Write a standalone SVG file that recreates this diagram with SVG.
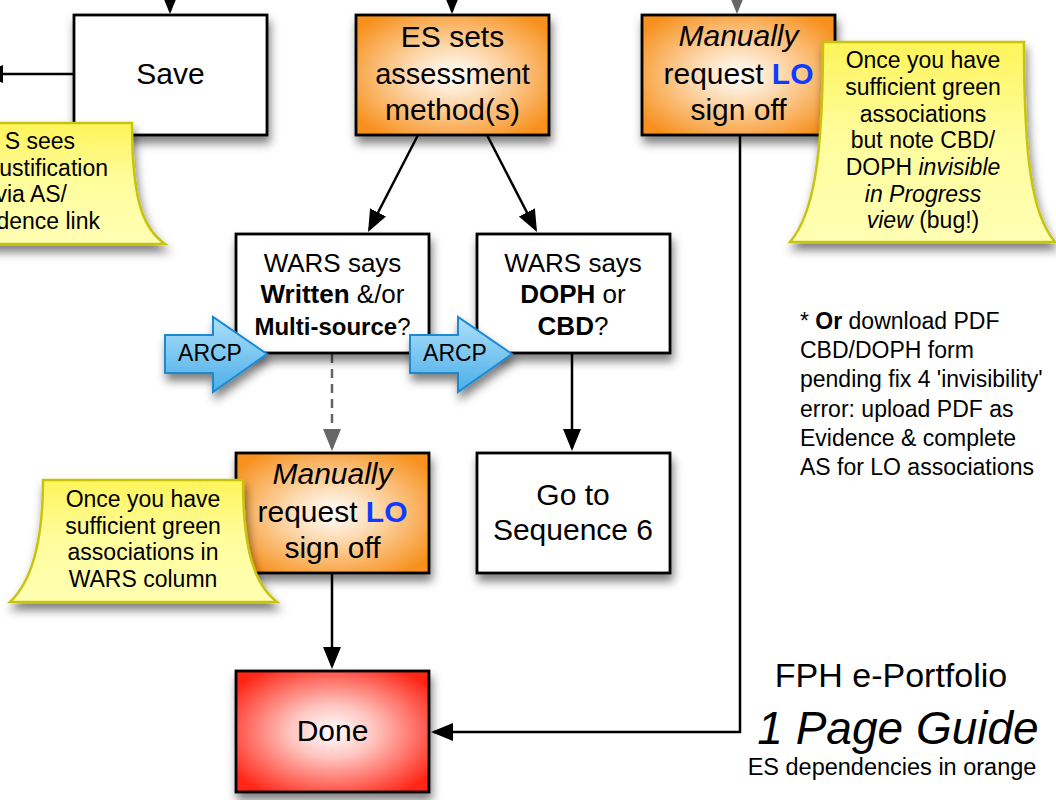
<svg xmlns="http://www.w3.org/2000/svg" width="1056" height="800" viewBox="0 0 1056 800">
<defs>
<style>
text{font-family:"Liberation Sans",Arial,Helvetica,sans-serif;fill:#000}
.box{stroke:#000;stroke-width:2.8}
.w{fill:#fff}
.o{fill:url(#gOrange)}
.r{fill:url(#gRed)}
.note{fill:url(#gNote);stroke:#c8c30c;stroke-width:2.5}
.arcp{fill:url(#gBlue);stroke:#1b8ad3;stroke-width:2}
.c{text-anchor:middle}
.f30{font-size:30px}
.f26{font-size:26px}
.f24{font-size:24px}
.f23{font-size:23px}
.b{font-weight:bold}
.i{font-style:italic}
.lo{fill:#0b3cff;font-weight:bold}
.con{fill:none;stroke:#000;stroke-width:2.5}
.gray{fill:none;stroke:#666;stroke-width:2.5}
.dash{stroke-dasharray:9 6}
.sh{filter:url(#shadow)}
</style>
<radialGradient id="gOrange" cx="50%" cy="50%" r="62%">
<stop offset="0" stop-color="#ffffff"/>
<stop offset="0.35" stop-color="#fddcb5"/>
<stop offset="1" stop-color="#f7901c"/>
</radialGradient>
<radialGradient id="gRed" cx="50%" cy="50%" r="62%">
<stop offset="0" stop-color="#ffffff"/>
<stop offset="0.35" stop-color="#ffc5c0"/>
<stop offset="1" stop-color="#ff2516"/>
</radialGradient>
<linearGradient id="gNote" x1="0" y1="0" x2="0" y2="1">
<stop offset="0" stop-color="#fff45a"/>
<stop offset="0.45" stop-color="#fffc9a"/>
<stop offset="1" stop-color="#ffffb4"/>
</linearGradient>
<linearGradient id="gBlue" x1="0" y1="0" x2="0" y2="1">
<stop offset="0" stop-color="#aee0fa"/>
<stop offset="1" stop-color="#4aaee8"/>
</linearGradient>
<filter id="shadow" x="-20%" y="-20%" width="150%" height="160%">
<feDropShadow dx="2" dy="7" stdDeviation="5" flood-color="#000" flood-opacity="0.5"/>
</filter>
<marker id="ah" markerUnits="userSpaceOnUse" markerWidth="24" markerHeight="20" refX="19" refY="9" orient="auto">
<path d="M0,0 L22,9 L0,18 Z" fill="#000"/>
</marker>
<marker id="ahg" markerUnits="userSpaceOnUse" markerWidth="24" markerHeight="20" refX="19" refY="9" orient="auto">
<path d="M0,0 L22,9 L0,18 Z" fill="#666"/>
</marker>
</defs>
<rect width="1056" height="800" fill="#fff"/>

<g id="connectors">
<line class="con" x1="170" y1="-30" x2="170" y2="11" marker-end="url(#ah)"/>
<line class="con" x1="452" y1="-30" x2="452" y2="11" marker-end="url(#ah)"/>
<line class="gray dash" x1="737" y1="-30" x2="737" y2="11" marker-end="url(#ahg)"/>
<line class="con" x1="74" y1="74" x2="-16" y2="74" marker-end="url(#ah)"/>
<line class="con" x1="418" y1="135" x2="369.4" y2="229.3" marker-end="url(#ah)"/>
<line class="con" x1="487" y1="135" x2="535.6" y2="229.3" marker-end="url(#ah)"/>
<line class="gray dash" x1="332" y1="354" x2="332" y2="448" marker-end="url(#ahg)"/>
<line class="con" x1="572" y1="354" x2="572" y2="448" marker-end="url(#ah)"/>
<line class="con" x1="332" y1="574" x2="332" y2="666" marker-end="url(#ah)"/>
<path class="con" d="M740,136 L740,732 L434,732" marker-end="url(#ah)"/>
</g>

<g id="save">
<rect class="box w sh" x="74" y="15" width="193" height="120"/>
<text class="c f30" x="170.5" y="84">Save</text>
</g>

<g id="es-sets">
<rect class="box o sh" x="356" y="15" width="193" height="120"/>
<text class="c f30" x="452.5" y="47">ES sets</text>
<text class="c" font-size="29" x="452.5" y="84">assessment</text>
<text class="c f30" x="452.5" y="120">method(s)</text>
</g>

<g id="manual-top">
<rect class="box o sh" x="642" y="15" width="193" height="120"/>
<text class="c f30 i" x="738.5" y="46">Manually</text>
<text class="c f30" x="738.5" y="84">request <tspan class="lo">LO</tspan></text>
<text class="c f30" x="738.5" y="120">sign off</text>
</g>

<g id="wars-written">
<rect class="box w sh" x="236" y="234" width="193" height="119"/>
<text class="c f26" x="332.5" y="272">WARS says</text>
<text class="c f26" x="332.5" y="303"><tspan class="b">Written</tspan> &amp;/or</text>
<text class="c f24" x="332.5" y="335"><tspan class="b">Multi-source</tspan>?</text>
</g>

<g id="wars-doph">
<rect class="box w sh" x="477" y="234" width="193" height="119"/>
<text class="c f26" x="573" y="272">WARS says</text>
<text class="c f26" x="573" y="303"><tspan class="b">DOPH</tspan> or</text>
<text class="c f26" x="573" y="335"><tspan class="b">CBD</tspan>?</text>
</g>

<g id="arcp-1">
<path class="arcp sh" d="M165,335 L213,335 L213,317 L267,354 L213,392 L213,373 L165,373 Z"/>
<text class="c f23" x="210" y="361">ARCP</text>
</g>

<g id="arcp-2">
<path class="arcp sh" d="M410,335 L458,335 L458,317 L512,354 L458,392 L458,373 L410,373 Z"/>
<text class="c f23" x="455" y="361">ARCP</text>
</g>

<g id="manual-lower">
<rect class="box o sh" x="236" y="453" width="193" height="120"/>
<text class="c f30 i" x="332.5" y="484">Manually</text>
<text class="c f30" x="332.5" y="522">request <tspan class="lo">LO</tspan></text>
<text class="c f30" x="332.5" y="558">sign off</text>
</g>

<g id="goto-seq6">
<rect class="box w sh" x="477" y="453" width="193" height="120"/>
<text class="c f30" x="573" y="505">Go to</text>
<text class="c f30" x="573" y="540">Sequence 6</text>
</g>

<g id="done">
<rect class="box r sh" x="236" y="671" width="193" height="121"/>
<text class="c f30" x="332.5" y="741">Done</text>
</g>

<g id="note-left">
<path class="note sh" d="M-70,123 L132,123 C132,205 145,230 165,244 L-100,244 Z"/>
<text class="f23" text-anchor="end" x="75" y="149">S sees</text>
<text class="f23" text-anchor="end" x="108" y="175.7">ustification</text>
<text class="f23" text-anchor="end" x="67" y="202.3">via AS/</text>
<text class="f23" text-anchor="end" x="100" y="229">dence link</text>
</g>

<g id="note-right">
<path class="note sh" d="M823,42 L1024,42 C1024,160 1032,215 1055,242 L790,242 C813,215 823,160 823,42 Z"/>
<text class="c f23" x="923" y="68.3">Once you have</text>
<text class="c f23" x="923" y="95">sufficient green</text>
<text class="c f23" x="923" y="121.7">associations</text>
<text class="c f23" x="923" y="148.3">but note CBD/</text>
<text class="c f23" x="923" y="175">DOPH <tspan class="i">invisible</tspan></text>
<text class="c f23 i" x="923" y="201.7">in Progress</text>
<text class="c f23" x="923" y="228.3"><tspan class="i">view</tspan> (bug!)</text>
</g>

<g id="note-lower">
<path class="note sh" d="M43,480 L243,480 C243,552 255,585 277,602 L10,602 C28,585 43,552 43,480 Z"/>
<text class="c f23" x="143" y="507">Once you have</text>
<text class="c f23" x="143" y="533.7">sufficient green</text>
<text class="c f23" x="143" y="560.3">associations in</text>
<text class="c f23" x="143" y="587">WARS column</text>
</g>

<g id="footnote">
<text class="f23" x="800" y="329"><tspan>* </tspan><tspan class="b">Or</tspan> download PDF</text>
<text class="f23" x="800" y="358.2">CBD/DOPH form</text>
<text class="f23" x="800" y="387.4">pending fix 4 'invisibility'</text>
<text class="f23" x="800" y="416.6">error: upload PDF as</text>
<text class="f23" x="800" y="445.8">Evidence &amp; complete</text>
<text class="f23" x="800" y="475">AS for LO associations</text>
</g>

<g id="title">
<text class="c" font-size="34" x="891" y="687">FPH e-Portfolio</text>
<text class="c i" font-size="46" x="898" y="744">1 Page Guide</text>
<text class="c" font-size="23.5" x="892" y="775">ES dependencies in orange</text>
</g>
</svg>
